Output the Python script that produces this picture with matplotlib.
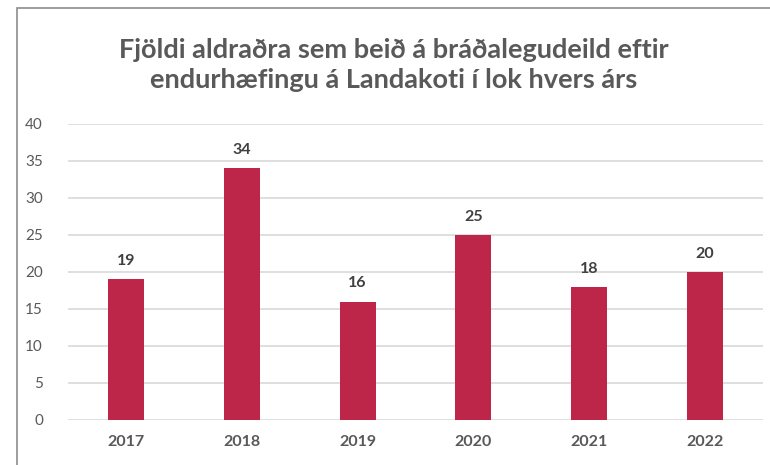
import matplotlib.pyplot as plt
from matplotlib.patches import Rectangle

years = ["2017", "2018", "2019", "2020", "2021", "2022"]
counts = [19, 34, 16, 25, 18, 20]
title = "Fjöldi aldraðra sem beið á bráðalegudeild eftir\nendurhæfingu á Landakoti í lok hvers árs"

plt.rcParams['font.family'] = ['Lato', 'DejaVu Sans']

fig = plt.figure(figsize=(7.7, 4.65), dpi=100)
ax = fig.add_axes([0.0883, 0.0968, 0.9027, 0.6366])

# chart frame (only left and top edges visible in the crop)
fig.patches.append(Rectangle((17 / 770, -0.1), 1.2, 1 - 8 / 465 + 0.1,
                             transform=fig.transFigure, fill=False,
                             edgecolor="#8c8c8c", linewidth=1.2))

x = range(len(years))
bars = ax.bar(x, counts, width=0.31, color="#be2649", zorder=3)
for xi, v in zip(x, counts):
    ax.text(xi, v + 1.5, str(v), ha="center", va="bottom",
            fontsize=11.5, fontweight="bold", color="#404040")

ax.set_xlim(-0.5, 5.5)
ax.set_ylim(0, 40)
ax.set_yticks(range(0, 41, 5))
ax.set_xticks(list(x))
ax.set_xticklabels(years, fontweight="bold", fontsize=11.5, color="#595959")
ax.tick_params(axis="y", labelsize=11, labelcolor="#595959", length=0, pad=18)
ax.tick_params(axis="x", length=0, pad=11)
ax.grid(axis="y", color="#d9d9d9", linewidth=1.2, zorder=0)
for s in ax.spines.values():
    s.set_visible(False)

fig.text(0.5 + 17 / 770 / 2, 1 - 65 / 465, title, ha="center", va="center",
         fontsize=19.5, fontweight="bold", color="#595959", linespacing=1.25)

fig.savefig("out.png", dpi=100)
